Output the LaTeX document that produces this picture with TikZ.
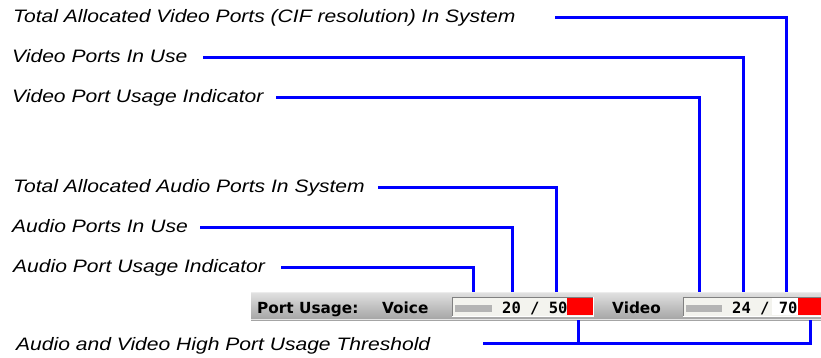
\documentclass[tikz,border=0pt]{standalone}
\usepackage{fontspec}
\setmainfont[FakeStretch=1.17]{Liberation Sans}
\newfontfamily\barfont{DejaVu Sans}
\newfontfamily\numfont{DejaVu Sans Mono}
\definecolor{linkblue}{HTML}{0000FF}
\definecolor{bartop}{HTML}{E2E2E2}
\definecolor{barmid}{HTML}{C2C2C2}
\definecolor{barbot}{HTML}{A4A4A4}
\definecolor{fieldbg}{HTML}{F3F3EE}
\definecolor{progress}{HTML}{B4B4B4}
\definecolor{hired}{HTML}{FF0000}
\tikzset{
  lbl/.style={anchor=base west, inner sep=0pt, font=\fontsize{18}{20}\selectfont\itshape},
  conn/.style={draw=linkblue, line width=3pt, line join=miter},
  barlbl/.style={anchor=base west, inner sep=0pt, font=\barfont\bfseries\fontsize{15.3}{17}\selectfont},
  numlbl/.style={anchor=base west, inner sep=0pt, font=\numfont\bfseries\fontsize{15.5}{17}\selectfont},
}
\begin{document}
\begin{tikzpicture}[x=1pt, y=-1pt]
\useasboundingbox (0,0) rectangle (821,357);
% --- port usage bar ---
\shade[top color=bartop, bottom color=barbot, middle color=barmid] (251,292) rectangle (821,320);
\draw[white!85!gray, line width=1pt] (251,292.5) -- (821,292.5);
\draw[white!80!gray, line width=1pt] (251,319.5) -- (821,319.5);
% voice field
\fill[fieldbg] (452,297) rectangle (593,316);
\fill[progress] (455,305) rectangle (492,312);
\fill[hired] (567,298) rectangle (593,315);
\draw[gray, line width=0.8pt] (452,316) -- (452,297) -- (593,297);
\draw[white, line width=0.8pt] (452,316) -- (593,316) -- (593,297);
% video field
\fill[fieldbg] (683,297) rectangle (821,316);
\fill[progress] (686,305) rectangle (722,312);
\fill[white] (772,298) rectangle (798,315);
\fill[hired] (798,298) rectangle (821,315);
\draw[gray, line width=0.8pt] (683,316) -- (683,297) -- (821,297);
\draw[white, line width=0.8pt] (683,316) -- (821,316);
% bar texts
\node[barlbl] (pu) at (257,313) {Port Usage:};
\node[barlbl] (voice) at (382,313) {Voice};
\node[barlbl] (video) at (612,313) {Video};
\node[numlbl] (vnum) at (502,313) {20 / 50};
\node[numlbl] (dnum) at (732,313) {24 / 70};
% bar anchor points
\coordinate (vtot) at (786,292);
\coordinate (vuse) at (743,292);
\coordinate (vind) at (699,292);
\coordinate (atot) at (556,292);
\coordinate (ause) at (512,292);
\coordinate (aind) at (473,292);
\coordinate (athr) at (578,320);
\coordinate (vthr) at (810,320);
% --- labels ---
\node[lbl] (l1) at (13,22) {Total Allocated Video Ports (CIF resolution) In System};
\node[lbl] (l2) at (12,62) {Video Ports In Use};
\node[lbl] (l3) at (12,102) {Video Port Usage Indicator};
\node[lbl] (l4) at (13,192) {Total Allocated Audio Ports In System};
\node[lbl] (l5) at (12,232) {Audio Ports In Use};
\node[lbl] (l6) at (13,272) {Audio Port Usage Indicator};
\node[lbl] (l7) at (16,350) {Audio and Video High Port Usage Threshold};
% connector starts
\coordinate (s1) at (555,17);
\coordinate (s2) at (203,57);
\coordinate (s3) at (276,97);
\coordinate (s4) at (378,187);
\coordinate (s5) at (200,227);
\coordinate (s6) at (281,267);
\coordinate (s7) at (483,343);
% connectors
\draw[conn] (s1) -| (vtot);
\draw[conn] (s2) -| (vuse);
\draw[conn] (s3) -| (vind);
\draw[conn] (s4) -| (atot);
\draw[conn] (s5) -| (ause);
\draw[conn] (s6) -| (aind);
\draw[conn] (s7) -| (vthr);
\draw[conn] (athr) -- (athr |- s7);
\end{tikzpicture}
\end{document}
